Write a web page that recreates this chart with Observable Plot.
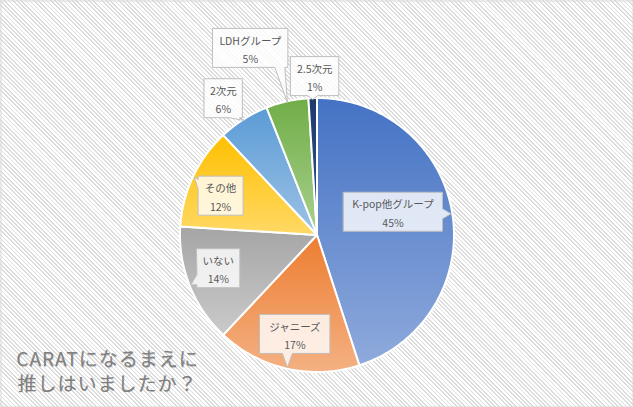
<!DOCTYPE html>
<html><head><meta charset="utf-8">
<script src="https://cdn.jsdelivr.net/npm/d3@7"></script>
<script src="https://cdn.jsdelivr.net/npm/@observablehq/plot@0.6"></script>
<style>body{margin:0;background:#fff;} .title-text{letter-spacing:1px;text-shadow:0.5px 0.5px 0.6px rgba(0,0,0,0.2);}</style>
</head><body><div id="chart"></div>
<script>
// ---- data ----
const categories = ["K-pop他グループ","ジャニーズ","いない","その他","2次元","LDHグループ","2.5次元"];
const percents = [45,17,14,12,6,5,1];
const colorTop = ["#4472C4","#ED7D31","#A5A5A5","#FFC000","#5B9BD5","#70AD47","#203A6B"];
const colorBottom = ["#8FAADC","#F4B183","#CACACA","#FFD966","#9DC3E6","#A9D18E","#2F5597"];
const titleLines = ["CARATになるまえに","推しはいましたか？"];

// ---- layout ----
const W = 633, H = 407, CX = 316.5, CY = 234.5, R = 137;
const labelR = [0.58, 0.74, 0.76, 0.76, 1.21, 1.45, 1.16];
const labelTurn = [-8, 0, 3, -3, -2, -7, 1];
const boxW = [99, 70, 43, 45, 38, 75, 48];
const BOX_H = 39;

const toUX = px => (px - CX) / R;
const toUY = py => (CY - py) / R;

const arcs = d3.pie().sort(null).value(d => d)(percents);

// slice polygons (unit circle, y up)
const slicePts = [];
arcs.forEach((a, i) => {
  slicePts.push({i, x: 0, y: 0});
  const n = Math.max(2, Math.ceil((a.endAngle - a.startAngle) / (Math.PI / 180)));
  for (let k = 0; k <= n; k++) {
    const t = a.startAngle + (a.endAngle - a.startAngle) * k / n;
    slicePts.push({i, x: Math.sin(t), y: Math.cos(t)});
  }
});

// callouts
const calloutPts = [];
const labels = [];
arcs.forEach((a, i) => {
  const mid = (a.startAngle + a.endAngle) / 2;
  const ang = mid + labelTurn[i] * Math.PI / 180;
  const bx = CX + R * labelR[i] * Math.sin(ang);
  const by = CY - R * labelR[i] * Math.cos(ang);
  const tx = CX + R * 0.99 * Math.sin(mid);
  const ty = CY - R * 0.99 * Math.cos(mid);
  const w = boxW[i], h = BOX_H;
  const x0 = bx - w / 2, x1 = bx + w / 2, y0 = by - h / 2, y1 = by + h / 2;
  const inside = tx > x0 && tx < x1 && ty > y0 && ty < y1;
  const rdx = (tx - bx) / (w / 2), rdy = (ty - by) / (h / 2);
  let side = null;
  if (!inside) side = Math.abs(rdx) > Math.abs(rdy) ? (rdx > 0 ? "right" : "left") : (rdy > 0 ? "bottom" : "top");
  const half = 5;
  const clamp = (v, lo, hi) => Math.max(lo, Math.min(hi, v));
  const pts = [];
  pts.push([x0, y0]);
  if (side === "top") { const c = clamp(tx, x0 + 3 + half, x1 - 3 - half); pts.push([c - half, y0], [tx, ty], [c + half, y0]); }
  pts.push([x1, y0]);
  if (side === "right") { const c = clamp(ty, y0 + 3 + half, y1 - 3 - half); pts.push([x1, c - half], [tx, ty], [x1, c + half]); }
  pts.push([x1, y1]);
  if (side === "bottom") { const c = clamp(tx, x0 + 3 + half, x1 - 3 - half); pts.push([c + half, y1], [tx, ty], [c - half, y1]); }
  pts.push([x0, y1]);
  if (side === "left") { const c = clamp(ty, y0 + 3 + half, y1 - 3 - half); pts.push([x0, c + half], [tx, ty], [x0, c - half]); }
  pts.forEach(([px, py]) => calloutPts.push({i, x: toUX(px), y: toUY(py)}));
  labels.push({i, x: toUX(bx), y: toUY(by), text: `${categories[i]}\n${percents[i]}%`});
});

const plot = Plot.plot({
  width: W, height: H, margin: 0,
  x: {domain: [-CX / R, (W - CX) / R], axis: null},
  y: {domain: [-(H - CY) / R, CY / R], axis: null},
  color: {type: "identity"},
  style: {
    background: "repeating-linear-gradient(45deg, #ffffff 0px, #ffffff 1.8px, #dcdcdc 1.8px, #dcdcdc 3px)",
    fontFamily: "'Noto Sans CJK JP', 'Noto Sans', sans-serif"
  },
  marks: [
    Plot.line(slicePts, {x: "x", y: "y", z: "i", fill: d => `url(#g${d.i})`, stroke: "white", strokeWidth: 2, strokeLinejoin: "round", curve: "linear-closed"}),
    Plot.line(calloutPts, {x: "x", y: "y", z: "i", fill: "white", fillOpacity: 0.8, stroke: "#BFBFBF", strokeWidth: 1, curve: "linear-closed"}),
    Plot.text(labels, {x: "x", y: "y", text: "text", fill: "#595959", fontSize: 10.5, lineHeight: 1.75}),
    Plot.text([titleLines.join("\n")], {text: d => d, frameAnchor: "top-left", dx: 107, dy: 370, textAnchor: "middle", lineAnchor: "middle", fontSize: 19, lineHeight: 1.3, fill: "#808080", className: "title-text"}),
    Plot.frame({stroke: "#d9d9d9", inset: 0.5})
  ]
});

const ns = "http://www.w3.org/2000/svg";
const defs = document.createElementNS(ns, "defs");
colorTop.forEach((c, i) => {
  const g = document.createElementNS(ns, "linearGradient");
  g.setAttribute("id", `g${i}`);
  g.setAttribute("x1", "0"); g.setAttribute("y1", "0"); g.setAttribute("x2", "0"); g.setAttribute("y2", "1");
  [[0, c], [1, colorBottom[i]]].forEach(([o, col]) => {
    const s = document.createElementNS(ns, "stop");
    s.setAttribute("offset", o); s.setAttribute("stop-color", col);
    g.appendChild(s);
  });
  defs.appendChild(g);
});
plot.prepend(defs);
document.getElementById("chart").appendChild(plot);
</script>
</body></html>
